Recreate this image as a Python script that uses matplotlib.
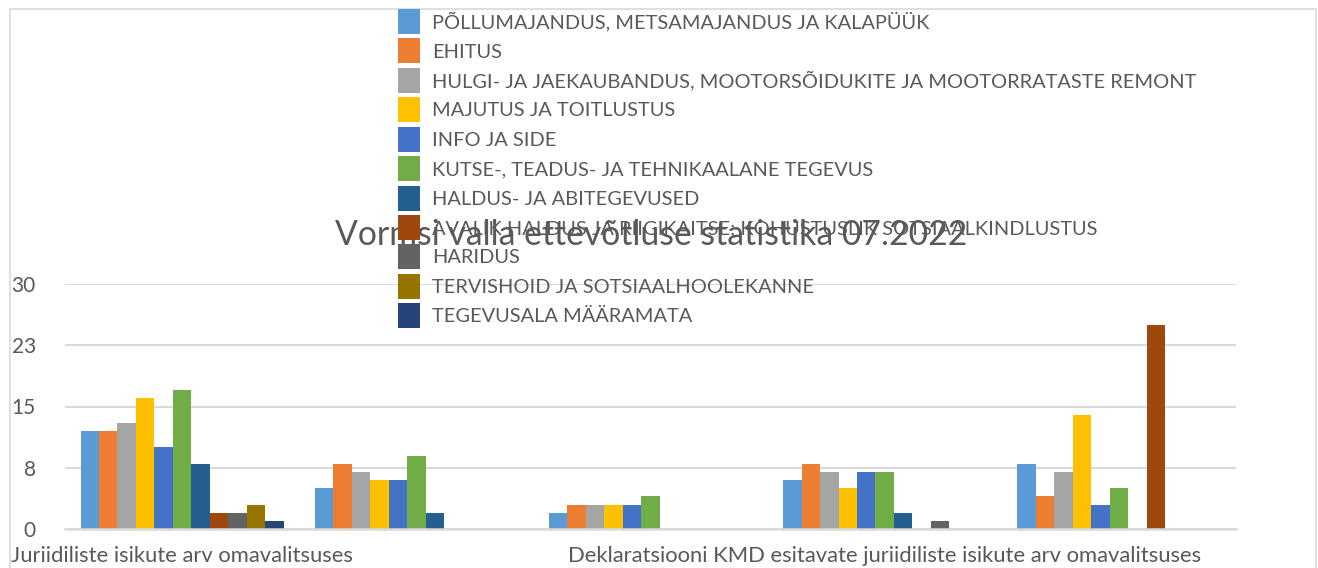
import matplotlib
matplotlib.use("Agg")
import matplotlib.pyplot as plt
import numpy as np
from matplotlib.patches import Rectangle

plt.rcParams['font.family'] = ['Lato', 'DejaVu Sans']

title = "Vormsi valla ettevõtluse statistika 07.2022"
categories = [
    "Juriidiliste isikute arv omavalitsuses",
    "",
    "",
    "Deklaratsiooni KMD esitavate juriidiliste isikute arv omavalitsuses",
    "",
]
series_names = [
    "PÕLLUMAJANDUS, METSAMAJANDUS JA KALAPÜÜK",
    "EHITUS",
    "HULGI- JA JAEKAUBANDUS, MOOTORSÕIDUKITE JA MOOTORRATASTE REMONT",
    "MAJUTUS JA TOITLUSTUS",
    "INFO JA SIDE",
    "KUTSE-, TEADUS- JA TEHNIKAALANE TEGEVUS",
    "HALDUS- JA ABITEGEVUSED",
    "AVALIK HALDUS JA RIIGIKAITSE; KOHUSTUSLIK SOTSIAALKINDLUSTUS",
    "HARIDUS",
    "TERVISHOID JA SOTSIAALHOOLEKANNE",
    "TEGEVUSALA MÄÄRAMATA",
]
colors = ["#5B9BD5", "#ED7D31", "#A5A5A5", "#FFC000", "#4472C4", "#70AD47",
          "#255E91", "#9E480E", "#636363", "#997300", "#264478"]

# values per series across the 5 categories
pollumajandus = [12, 5, 2, 6, 8]
ehitus = [12, 8, 3, 8, 4]
hulgi = [13, 7, 3, 7, 7]
majutus = [16, 6, 3, 5, 14]
info = [10, 6, 3, 7, 3]
kutse = [17, 9, 4, 7, 5]
haldus = [8, 2, 0, 2, 0]
avalik = [2, 0, 0, 0, 25]
haridus = [2, 0, 0, 1, 0]
tervishoid = [3, 0, 0, 0, 0]
maaramata = [1, 0, 0, 0, 0]
series_values = [pollumajandus, ehitus, hulgi, majutus, info, kutse,
                 haldus, avalik, haridus, tervishoid, maaramata]

y_ticks = [0, 7.5, 15, 22.5, 30]
y_tick_labels = ["0", "8", "15", "23", "30"]

W, H = 1318, 568
fig = plt.figure(figsize=(W / 100, H / 100), dpi=100)
ax = fig.add_axes([65 / W, 1 - 529 / H, (1236 - 65) / W, (529 - 284) / H])

text_color = "#595959"
grid_color = "#D9D9D9"

n = len(series_values)
x = np.arange(len(categories))
group_w = 0.867
bw = group_w / n
handles = []
for i, (vals, c, name) in enumerate(zip(series_values, colors, series_names)):
    offs = -group_w / 2 + bw * (i + 0.5)
    h = ax.bar(x + offs, vals, width=bw, color=c, label=name, zorder=3, linewidth=0)
    handles.append(h)

ax.set_xlim(-0.5, len(categories) - 0.5)
ax.set_ylim(0, 30)
ax.set_yticks(y_ticks)
ax.set_yticklabels(y_tick_labels)
ax.set_xticks(x)
ax.set_xticklabels(categories)
ax.tick_params(axis='both', length=0, colors=text_color, labelsize=15.8)
ax.tick_params(axis='y', labelsize=15)
ax.tick_params(axis='x', pad=12)
ax.tick_params(axis='y', pad=21)
ax.yaxis.grid(True, color=grid_color, linewidth=1.5, zorder=0)
ax.set_axisbelow(True)
for s in ['top', 'right', 'left']:
    ax.spines[s].set_visible(False)
ax.spines['bottom'].set_color(grid_color)
ax.spines['bottom'].set_linewidth(1.8)
ax.spines['bottom'].set_zorder(4)

# chart border
fig.patches.append(Rectangle((10 / W, -0.02), (1316 - 10) / W, 1.02 - 9 / H,
                             transform=fig.transFigure, fill=False,
                             edgecolor=grid_color, linewidth=1.2, zorder=0))

fig.text(651 / W, 1 - 235 / H, title, ha='center', va='center', fontsize=24.3,
         color=text_color, zorder=2)

leg = fig.legend(handles=handles, labels=series_names, loc='upper left',
                 bbox_to_anchor=(398 / W, 1 - 9 / H), bbox_transform=fig.transFigure,
                 frameon=False, fontsize=14.45, borderpad=0, borderaxespad=0,
                 handlelength=1.09, handleheight=1.54, handletextpad=0.62,
                 labelspacing=0.22, labelcolor=text_color)
leg.set_zorder(5)

fig.savefig("out.png", dpi=100)
